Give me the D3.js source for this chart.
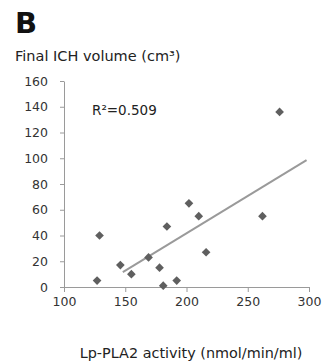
<!DOCTYPE html>
<html>
<head>
<meta charset="utf-8">
<script src="https://cdn.jsdelivr.net/npm/d3@7"></script>
<style>
  body { margin: 0; background: #fff; }
  text { font-family: "DejaVu Sans", sans-serif; }
</style>
</head>
<body>
<div id="viz"></div>
<script>
// Lp-PLA2 activity vs final ICH volume
var activity = [127, 129, 146, 155, 169, 178, 181, 184, 192, 202, 210, 216, 262, 276];
var volume   = [5, 40, 17, 10, 23, 15, 1, 47, 5, 65, 55, 27, 55, 136];
var trendX = [148, 298];
var trendY = [11.5, 98.5];
var xTicks = [100, 150, 200, 250, 300];
var yTicks = [0, 20, 40, 60, 80, 100, 120, 140, 160];

var width = 322, height = 361;
var margin = {top: 81, right: 13, bottom: 74, left: 64};
var font = '"DejaVu Sans", sans-serif';

var svg = d3.select('#viz').append('svg')
  .attr('width', width)
  .attr('height', height);

var x = d3.scaleLinear()
  .domain([100, 300])
  .range([margin.left, width - margin.right]);

var y = d3.scaleLinear()
  .domain([0, 160])
  .range([height - margin.bottom, margin.top]);

// x axis
svg.append('g')
  .attr('transform', 'translate(0,' + y(0) + ')')
  .call(d3.axisBottom(x).tickValues(xTicks).tickSize(5).tickPadding(5).tickSizeOuter(0))
  .call(g => g.select('.domain').attr('stroke', '#9a9a9a'))
  .call(g => g.selectAll('.tick line').attr('stroke', '#9a9a9a'))
  .call(g => g.selectAll('.tick text').attr('font-size', 12.5).attr('fill', '#333')
    .attr('font-family', font));

// y axis
svg.append('g')
  .attr('transform', 'translate(' + x(100) + ',0)')
  .call(d3.axisLeft(y).tickValues(yTicks).tickSize(4).tickPadding(12).tickSizeOuter(0))
  .call(g => g.select('.domain').attr('stroke', '#9a9a9a'))
  .call(g => g.selectAll('.tick line').attr('stroke', '#9a9a9a'))
  .call(g => g.selectAll('.tick text').attr('font-size', 12.5).attr('fill', '#333')
    .attr('font-family', font));

// trend line
svg.append('path')
  .datum(d3.zip(trendX, trendY))
  .attr('fill', 'none')
  .attr('stroke', '#9a9a9a')
  .attr('stroke-width', 2)
  .attr('d', d3.line().x(d => x(d[0])).y(d => y(d[1])));

// points
svg.append('g')
  .selectAll('path')
  .data(d3.zip(activity, volume))
  .join('path')
  .attr('transform', d => 'translate(' + x(d[0]) + ',' + y(d[1]) + ')')
  .attr('d', d3.symbol(d3.symbolDiamond2, 48))
  .attr('fill', '#5f5f5f');

// labels
svg.append('text')
  .attr('x', 15).attr('y', 33)
  .attr('font-family', 'Liberation Sans, Arial, sans-serif')
  .attr('font-weight', 'bold')
  .attr('font-size', 29)
  .attr('fill', '#111')
  .text('B');

svg.append('text')
  .attr('x', 15).attr('y', 61)
  .attr('font-size', 14.5)
  .attr('fill', '#222')
  .text('Final ICH volume (cm³)');

svg.append('text')
  .attr('x', 92).attr('y', 115)
  .attr('font-size', 13.5)
  .attr('fill', '#222')
  .text('R²=0.509');

svg.append('text')
  .attr('x', 191).attr('y', 358)
  .attr('text-anchor', 'middle')
  .attr('font-size', 14.4)
  .attr('fill', '#222')
  .text('Lp-PLA2 activity (nmol/min/ml)');
</script>
</body>
</html>
